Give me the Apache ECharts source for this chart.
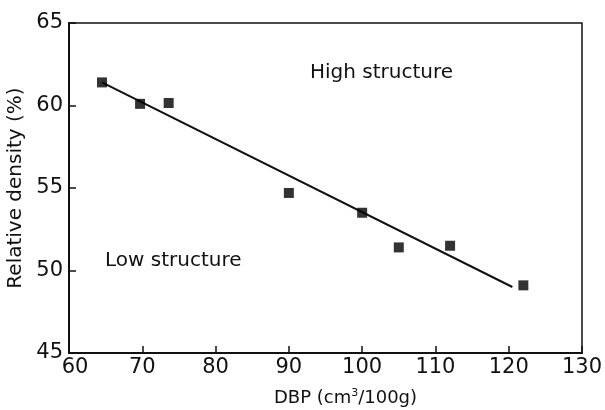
<!DOCTYPE html>
<html>
<head>
<meta charset="utf-8">
<script src="https://cdn.jsdelivr.net/npm/echarts@6/dist/echarts.min.js"></script>
<style>
  html, body { margin: 0; padding: 0; background: #fff; }
  #chart { width: 605px; height: 410px; }
</style>
</head>
<body>
<div id="chart"></div>
<script>
  // measured points: DBP vs relative density
  const dbp = [64.5, 69.7, 73.6, 90, 100, 105, 112, 122];
  const density = [61.4, 60.1, 60.15, 54.7, 53.5, 51.4, 51.5, 49.1];
  // fitted line end points
  const fitX = [64.5, 120.5];
  const fitY = [61.4, 49.0];

  const font = '"DejaVu Sans", sans-serif';
  let mychart = echarts.init(document.getElementById('chart'));
  const option = {
    animation: false,
    grid: {
      left: 69, right: 23, top: 23, bottom: 57,
      outerBoundsMode: 'none',
      containLabel: false,
      show: true, borderColor: '#111', borderWidth: 1.5
    },
    xAxis: {
      type: 'value', min: 60, max: 130, interval: 10,
      name: 'DBP (cm{sup|3}/100g)',
      nameLocation: 'middle', nameGap: 35,
      nameTextStyle: {
        fontFamily: font, fontSize: 18, color: '#111',
        padding: [0, 0, 0, 40],
        rich: { sup: { fontSize: 11, verticalAlign: 'top', padding: [0, 0, 9, 0], fontFamily: font, color: '#111' } }
      },
      axisLine: { lineStyle: { color: '#111', width: 2 } },
      axisTick: { inside: true, length: 7, lineStyle: { color: '#111', width: 1.5 } },
      axisLabel: {
        fontFamily: font, fontSize: 21, color: '#111', margin: 4,
        formatter: function (v) {
          return v === 60 ? '{first|60}' : String(v)
        },
        rich: { first: { fontFamily: font, fontSize: 21, color: '#111', padding: [0, 0, 0, 12] } }
      },
      splitLine: { show: false }
    },
    yAxis: {
      type: 'value', min: 45, max: 65, interval: 5,
      name: 'Relative density (%)',
      nameLocation: 'middle', nameGap: 34,
      nameTextStyle: { fontFamily: font, fontSize: 20, color: '#111' },
      axisLine: { show: true, lineStyle: { color: '#111', width: 2 } },
      axisTick: { show: true, inside: true, length: 7, lineStyle: { color: '#111', width: 1.5 } },
      axisLabel: { fontFamily: font, fontSize: 21, color: '#111', margin: 6 },
      splitLine: { show: false }
    },
    graphic: [
      { type: 'text', left: 310, top: 63, style: { text: 'High structure', fontFamily: font, fontSize: 20, fill: '#111' } },
      { type: 'text', left: 105, top: 251, style: { text: 'Low structure', fontFamily: font, fontSize: 20, fill: '#111' } }
    ],
    series: [
      {
        type: 'line',
        data: fitX.map((x, i) => [x, fitY[i]]),
        showSymbol: false,
        lineStyle: { color: '#111', width: 2 },
        z: 2
      },
      {
        type: 'scatter',
        data: dbp.map((x, i) => [x, density[i]]),
        symbol: 'rect',
        symbolSize: 10,
        itemStyle: { color: '#000' },
        z: 3
      }
    ]
  };
  mychart.setOption(option);
</script>
</body>
</html>
